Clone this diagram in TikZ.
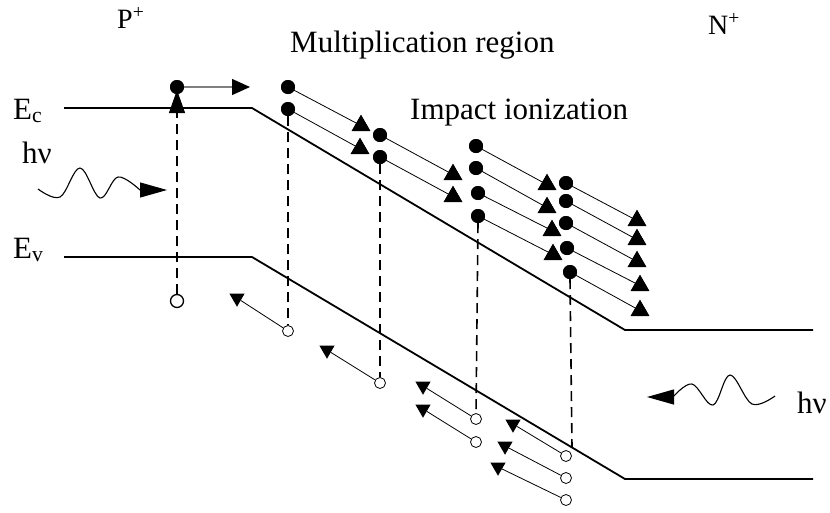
\documentclass[tikz,border=0pt]{standalone}
\usepackage{fontspec}
\setmainfont{Liberation Serif}
\usetikzlibrary{arrows.meta,shapes.geometric}
\begin{document}
\begin{tikzpicture}[x=1pt,y=-1pt,
  band/.style={line width=1.8pt},
  vdash/.style={line width=1.6pt, dash pattern=on 10pt off 6pt},
  fine/.style={line width=0.8pt},
  elec/.style={circle, fill=black, inner sep=0pt, minimum size=14pt},
  hole/.style={circle, draw=black, fill=white, line width=0.8pt, inner sep=0pt, minimum size=11pt},
  bighole/.style={circle, draw=black, fill=white, line width=1.3pt, inner sep=0pt, minimum size=13pt},
  etri/.style={regular polygon, regular polygon sides=3, fill=black, inner sep=0pt, minimum size=21pt},
  htri/.style={regular polygon, regular polygon sides=3, shape border rotate=180, fill=black, inner sep=0pt, minimum size=17.5pt},
  big/.style={font=\fontsize{31}{34}\selectfont, inner sep=0pt, anchor=base west},
  mid/.style={font=\fontsize{28}{30}\selectfont, inner sep=0pt, anchor=base west},
]
\useasboundingbox (0,0) rectangle (830,512);

% bands
\coordinate (c0) at (64,108); \coordinate (c1) at (252,108);
\coordinate (c2) at (625,330); \coordinate (c3) at (813,330);
\coordinate (v0) at (64,257); \coordinate (v1) at (252,257);
\coordinate (v2) at (625,479); \coordinate (v3) at (813,479);
\draw[band] (c0) -- (c1) -- (c2) -- (c3);
\draw[band] (v0) -- (v1) -- (v2) -- (v3);

% labels
\node[mid] (lP) at (117,28) {P\textsuperscript{+}};
\node[mid] (lN) at (708,34) {N\textsuperscript{+}};
\node[big] (lM) at (290,52) {Multiplication region};
\node[big] (lI) at (410,119) {Impact ionization};
\node[big] (lEc) at (13,119) {E\textsubscript{c}};
\node[big] (lEv) at (13,258) {E\textsubscript{v}};
\node[big] (lh1) at (22,163) {hν};
\node[big] (lh2) at (797,413) {hν};

% photons
\coordinate (w1) at (140,190); \coordinate (w1t) at (167,190);
\draw[line width=1.1pt] plot[smooth, tension=0.6] coordinates {(38,189) (60,197) (80,168) (100,198) (118,177) (140,190)};
\draw[line width=1.1pt, -{Triangle[length=27pt,width=15pt]}] (w1) -- (w1t);
\coordinate (w2) at (673,397); \coordinate (w2t) at (647,397);
\draw[line width=1.1pt] plot[smooth, tension=0.6] coordinates {(775,396) (752,404) (730,375) (713,405) (692,384) (673,397)};
\draw[line width=1.1pt, -{Triangle[length=27pt,width=15pt]}] (w2) -- (w2t);

% primary electron-hole pair
\node[elec] (eL) at (177,87) {};
\node[bighole] (hL) at (177,301) {};
\coordinate (aL) at (177,112);
\coordinate (aLt) at (177,90);
\coordinate (hT) at (250,87);
\draw[vdash] (hL) -- (aL);
\draw[line width=1pt, -{Triangle[length=23pt,width=16pt]}] (aL) -- (aLt);
\draw[gray, line width=1.3pt, -{Triangle[length=18pt,width=16pt,black]}] (eL) -- (hT);

% electrons
\node[elec] (eA1) at (288,87) {};
\node[elec] (eA2) at (288,109) {};
\node[elec] (eB1) at (380,135) {};
\node[elec] (eB2) at (380,157) {};
\node[elec] (eC1) at (476,146) {};
\node[elec] (eC2) at (476,168) {};
\node[elec] (eC3) at (478,193) {};
\node[elec] (eC4) at (478,216) {};
\node[elec] (eD1) at (566,183) {};
\node[elec] (eD2) at (566,201) {};
\node[elec] (eD3) at (566,223) {};
\node[elec] (eD4) at (567,248) {};
\node[elec] (eD5) at (570,272) {};

% electron arrow heads
\node[etri] (tA1) at (361,125.6) {};
\node[etri] (tA2) at (360,148.6) {};
\node[etri] (tB1) at (453,174.6) {};
\node[etri] (tB2) at (453,196.6) {};
\node[etri] (tC1) at (547,184.6) {};
\node[etri] (tC2) at (547,207.6) {};
\node[etri] (tC3) at (552,230.6) {};
\node[etri] (tC4) at (553,254.6) {};
\node[etri] (tD1) at (637,220.6) {};
\node[etri] (tD2) at (637,239.6) {};
\node[etri] (tD3) at (637,261.6) {};
\node[etri] (tD4) at (640,285.6) {};
\node[etri] (tD5) at (640,310.6) {};

\foreach \e/\t in {eA1/tA1,eA2/tA2,eB1/tB1,eB2/tB2,eC1/tC1,eC2/tC2,eC3/tC3,eC4/tC4,eD1/tD1,eD2/tD2,eD3/tD3,eD4/tD4,eD5/tD5}
  \draw[fine] (\e.center) -- (\t.center);
\foreach \t in {tA1,tA2,tB1,tB2,tC1,tC2,tC3,tC4,tD1,tD2,tD3,tD4,tD5}
  \fill (\t.corner 1) -- (\t.corner 2) -- (\t.corner 3) -- cycle;
\foreach \e in {eA1,eA2,eB1,eB2,eC1,eC2,eC3,eC4,eD1,eD2,eD3,eD4,eD5,eL}
  \fill (\e.center) circle (7pt);

% holes
\node[hole] (hA) at (288,331) {};
\node[hole] (hB) at (380,383) {};
\node[hole] (hC1) at (476,419) {};
\node[hole] (hC2) at (476,442) {};
\node[hole] (hD1) at (566,456) {};
\node[hole] (hD2) at (566,478) {};
\node[hole] (hD3) at (566,500) {};

% hole arrow heads
\node[htri] (uA) at (237,298) {};
\node[htri] (uB) at (327,350) {};
\node[htri] (uC1) at (423,386) {};
\node[htri] (uC2) at (423,409) {};
\node[htri] (uD1) at (513,424) {};
\node[htri] (uD2) at (505,446) {};
\node[htri] (uD3) at (498,467) {};
\foreach \h/\u in {hA/uA,hB/uB,hC1/uC1,hC2/uC2,hD1/uD1,hD2/uD2,hD3/uD3}
  \draw[fine] (\h) -- (\u);

% dashed transitions
\coordinate (vD) at (572,447);
\draw[vdash] (eA2) -- (hA);
\draw[vdash] (eB2) -- (hB);
\draw[vdash] (eC4.south) -- (hC1.north);
\draw[vdash] (eD5.south) -- (vD);
\end{tikzpicture}
\end{document}
